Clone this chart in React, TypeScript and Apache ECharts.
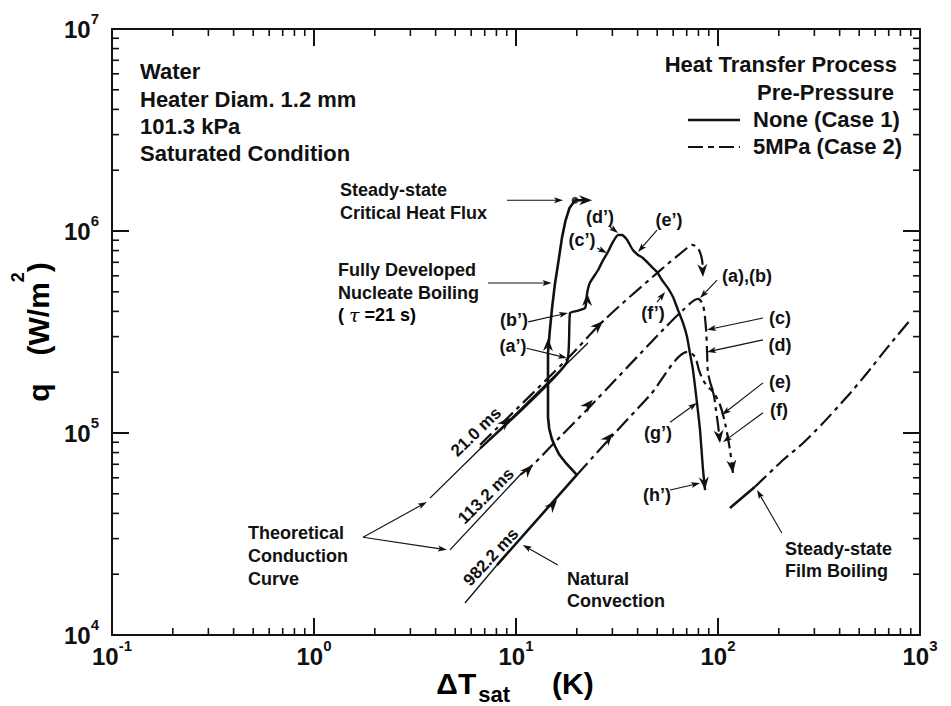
import React, { useEffect, useRef } from "react";
import * as echarts from "echarts";

const FONT = '"Liberation Sans", Arial, Helvetica, sans-serif';
const INK = "#111";

// axis ranges (log-log)
const X_MIN = 0.1;
const X_MAX = 1000;
const Y_MIN = 1e4;
const Y_MAX = 1e7;

// minor tick values of the log axes
const xMinorTicks = [0.2, 0.3, 0.4, 0.5, 0.6, 0.7, 0.8, 0.9, 2, 3, 4, 5, 6, 7, 8, 9, 20, 30, 40, 50, 60, 70, 80, 90, 200, 300, 400, 500, 600, 700, 800, 900];
const yMinorTicks = [2e4, 3e4, 4e4, 5e4, 6e4, 7e4, 8e4, 9e4, 2e5, 3e5, 4e5, 5e5, 6e5, 7e5, 8e5, 9e5, 2e6, 3e6, 4e6, 5e6, 6e6, 7e6, 8e6, 9e6];

// Theoretical conduction curves [ΔTsat (K), q (W/m2)]
const conduction21ms = [[3.75, 4.76e4], [22.7, 2.79e5]];
const conduction113ms = [[4.71, 2.64e4], [10.47, 6.2e4]];
const conduction982ms = [[5.59, 1.44e4], [8.05, 2.22e4]];

// Case 1 (no pre-pressure), solid
const case1Slow = [[8.05, 2.22e4], [20.0, 6.2e4], [17.5, 7.18e4], [16.4, 7.8e4], [15.6, 8.6e4], [15.07, 9.3e4], [14.6, 1.05e5], [14.4, 1.2e5], [14.4, 1.69e5], [14.4, 2.49e5], [14.7, 3.2e5], [15.1, 4.2e5], [15.6, 5.5e5], [16.3, 7.3e5], [16.9, 9.3e5], [17.6, 1.13e6], [18.4, 1.3e6], [19.6, 1.42e6]];
const case1Fast = [[6.64, 8.4e4], [17.9, 2.25e5], [18.5, 3.93e5], [20.0, 4.02e5], [22.0, 4.16e5], [22.5, 4.93e5], [23.2, 5.53e5], [25.5, 6.41e5], [27.0, 7.18e5], [28.5, 7.87e5], [30.2, 8.83e5], [32.0, 9.55e5], [33.5, 9.55e5], [35.5, 9.02e5], [37.9, 8.05e5], [40.2, 7.61e5], [42.5, 7.35e5], [47.1, 6.63e5], [49.9, 6.27e5], [52.8, 5.72e5], [56.5, 5.22e5], [59.9, 4.71e5], [63.4, 4.06e5], [67.1, 3.51e5], [70.3, 2.99e5], [72.6, 2.49e5], [75.2, 2.05e5], [78.7, 1.41e5], [81.5, 1.03e5], [84.3, 6.56e4], [86.3, 5.22e4]];

// Case 2 (5 MPa pre-pressure), dash-dot
const case2At21ms = [[6.64, 8.75e4], [17.9, 2.32e5], [27.0, 3.58e5], [49.9, 6.19e5], [70.3, 8.24e5], [74.3, 8.53e5], [79.6, 8.24e5], [83.4, 7.18e5], [84.3, 5.92e5]];
const case2At113ms = [[10.47, 6.2e4], [12.1, 6.95e4], [16.5, 9.55e4], [23.2, 1.35e5], [53.4, 3.24e5], [67.1, 4.06e5], [79.6, 4.61e5], [84.3, 4.3e5], [87.3, 3.24e5], [88.3, 2.52e5], [89.2, 2.0e5], [93.4, 1.67e5], [102.3, 1.38e5], [108.4, 1.12e5], [114.6, 8.24e4], [118.6, 6.34e4]];
const case2At982ms = [[20.0, 6.2e4], [30.2, 9.77e4], [46.1, 1.54e5], [71.0, 2.52e5], [76.9, 2.38e5], [80.5, 2.05e5], [84.3, 1.83e5], [89.2, 1.69e5], [94.4, 1.6e5], [97.7, 1.3e5], [100, 1.1e5], [102.3, 8.92e4]];

// Steady-state film boiling
const filmBoilingMeasured = [[114.6, 4.25e4], [152, 5.4e4]];
const filmBoilingSteady = [[152, 5.4e4], [210, 7.35e4], [264, 8.92e4], [331, 1.12e5], [435, 1.51e5], [547, 1.98e5], [687, 2.64e5], [913, 3.71e5]];

// Steady-state critical heat flux
const chfPoint = [[19.6, 1.42e6]];
const chfShaft = [[19.6, 1.42e6], [22.0, 1.42e6]];

// arrowheads on the curves [x from, q from, x tip, q tip]
const curveArrows = [
  [13.9, 3.97e4, 15.96, 4.66e4],
  [8.34, 1.06e5, 9.34, 1.19e5],
  [10.96, 6.27e4, 12.1, 6.95e4],
  [22.0, 1.33e5, 24.0, 1.46e5],
  [24.6, 3.28e5, 27.0, 3.58e5],
  [27.6, 9.02e4, 30.2, 1.0e5],
  [14.4, 2.58e5, 14.45, 2.95e5],
  [22.5, 4.4e5, 22.5, 4.93e5],
  [19.6, 1.42e6, 23.8, 1.42e6],
  [83.4, 7.18e5, 84.3, 5.92e5],
  [114.6, 8.24e4, 118.6, 6.34e4],
  [100, 1.1e5, 102.3, 8.92e4],
  [84.3, 6.56e4, 86.3, 5.22e4],
];

// annotation pointers [x from, q from, x tip, q tip]
const pointerArrows = [
  [9.02, 1.42e6, 17.1, 1.42e6],
  [7.27, 5.53e5, 15.0, 5.53e5],
  [11.5, 3.55e5, 18.1, 3.93e5],
  [11.3, 2.63e5, 17.9, 2.35e5],
  [25.2, 8.24e5, 28.2, 7.78e5],
  [29.2, 1.05e6, 32.0, 9.77e5],
  [49.9, 1.01e6, 40.2, 7.87e5],
  [49.9, 4.45e5, 54.7, 4.99e5],
  [98.9, 5.72e5, 81.5, 4.66e5],
  [167, 3.71e5, 88.3, 3.24e5],
  [167, 2.89e5, 88.3, 2.52e5],
  [167, 1.77e5, 104.7, 1.23e5],
  [167, 1.26e5, 105.9, 9.02e4],
  [57.9, 1.13e5, 78.7, 1.41e5],
  [57.9, 5.22e4, 81.5, 5.65e4],
  [16.1, 2.22e4, 10.8, 2.79e4],
  [207, 3.2e4, 156, 5.22e4],
  [1.75, 3.05e4, 3.62, 4.55e4],
  [1.75, 3.05e4, 4.55, 2.64e4],
];

const DASH_DOT = [16, 5, 4, 5];

function headRender(params: any, api: any) {
  const a = api.coord([api.value(0), api.value(1)]);
  const b = api.coord([api.value(2), api.value(3)]);
  let dx = b[0] - a[0];
  let dy = b[1] - a[1];
  const len = Math.hypot(dx, dy) || 1;
  dx /= len;
  dy /= len;
  const L = 13, W = 5, N = 9;
  const nx = -dy, ny = dx;
  return {
    type: "polygon",
    shape: {
      points: [
        [b[0], b[1]],
        [b[0] - dx * L + nx * W, b[1] - dy * L + ny * W],
        [b[0] - dx * N, b[1] - dy * N],
        [b[0] - dx * L - nx * W, b[1] - dy * L - ny * W],
      ],
    },
    style: { fill: INK },
  };
}

function pointerRender(params: any, api: any) {
  const a = api.coord([api.value(0), api.value(1)]);
  const b = api.coord([api.value(2), api.value(3)]);
  let dx = b[0] - a[0];
  let dy = b[1] - a[1];
  const len = Math.hypot(dx, dy) || 1;
  dx /= len;
  dy /= len;
  const L = 9, W = 3;
  const nx = -dy, ny = dx;
  return {
    type: "group",
    children: [
      { type: "line", shape: { x1: a[0], y1: a[1], x2: b[0] - dx * 5, y2: b[1] - dy * 5 }, style: { stroke: INK, lineWidth: 1.1 } },
      {
        type: "polygon",
        shape: {
          points: [
            [b[0], b[1]],
            [b[0] - dx * L + nx * W, b[1] - dy * L + ny * W],
            [b[0] - dx * (L - 2), b[1] - dy * (L - 2)],
            [b[0] - dx * L - nx * W, b[1] - dy * L - ny * W],
          ],
        },
        style: { fill: INK },
      },
    ],
  };
}

function xTickRender(params: any, api: any) {
  const v = api.value(0);
  const b = api.coord([v, Y_MIN]);
  const t = api.coord([v, Y_MAX]);
  return {
    type: "group",
    children: [
      { type: "line", shape: { x1: b[0], y1: b[1], x2: b[0], y2: b[1] - 7 }, style: { stroke: INK, lineWidth: 1.6 } },
      { type: "line", shape: { x1: t[0], y1: t[1], x2: t[0], y2: t[1] + 7 }, style: { stroke: INK, lineWidth: 1.6 } },
    ],
  };
}

function yTickRender(params: any, api: any) {
  const v = api.value(1);
  const l = api.coord([X_MIN, v]);
  const r = api.coord([X_MAX, v]);
  return {
    type: "group",
    children: [
      { type: "line", shape: { x1: l[0], y1: l[1], x2: l[0] + 7, y2: l[1] }, style: { stroke: INK, lineWidth: 1.6 } },
      { type: "line", shape: { x1: r[0], y1: r[1], x2: r[0] - 7, y2: r[1] }, style: { stroke: INK, lineWidth: 1.6 } },
    ],
  };
}

const tickRich = {
  b: { fontSize: 24, fontWeight: "bold", fontFamily: FONT, color: INK, verticalAlign: "bottom" },
  s: { fontSize: 15, fontWeight: "bold", fontFamily: FONT, color: INK, verticalAlign: "top", lineHeight: 30 },
};
const tickFormatter = (v: number) => `{b|10}{s|${Math.round(Math.log10(v))}}`;

const frameLine = { show: true, onZero: false, lineStyle: { color: INK, width: 2 } };
const majorTick = { show: true, inside: true, length: 17, lineStyle: { color: INK, width: 2 } };

function lineSeries(data: number[][], width: number, dashed: boolean, smooth = 0) {
  return {
    type: "line",
    data,
    symbol: "none",
    smooth,
    silent: true,
    z: 3,
    lineStyle: { color: INK, width, type: dashed ? DASH_DOT : "solid", cap: "butt", join: "round" },
  };
}

function txt(x: number, y: number, text: string, size: number, align = "left", extra: any = {}) {
  return {
    type: "text",
    x,
    y,
    z: 50,
    silent: true,
    style: { text, fill: INK, font: `bold ${size}px ${FONT}`, align, verticalAlign: "middle" },
    ...extra,
  };
}

const rot = (deg: number) => (deg * Math.PI) / 180;

const graphics: any[] = [
  // info block
  txt(140, 71, "Water", 22),
  txt(140, 99, "Heater Diam. 1.2 mm", 22),
  txt(140, 126, "101.3 kPa", 22),
  txt(140, 153, "Saturated Condition", 22),
  // legend
  txt(897, 64, "Heat Transfer Process", 22, "right"),
  txt(894, 92, "Pre-Pressure", 22, "right"),
  txt(753, 119, "None (Case 1)", 22),
  txt(753, 146, "5MPa (Case 2)", 22),
  { type: "line", z: 50, shape: { x1: 688, y1: 120, x2: 740, y2: 120 }, style: { stroke: INK, lineWidth: 2.5 } },
  { type: "line", z: 50, shape: { x1: 688, y1: 147, x2: 740, y2: 147 }, style: { stroke: INK, lineWidth: 2.2, lineDash: [15, 5, 6, 5] } },
  // block labels
  txt(340, 190, "Steady-state", 18),
  txt(340, 213, "Critical Heat Flux", 18),
  txt(338, 270, "Fully Developed", 18),
  txt(338, 293, "Nucleate Boiling", 18),
  {
    type: "text",
    x: 338,
    y: 315,
    z: 50,
    style: {
      text: "{a|( }{t|τ}{a| =21 s)}",
      align: "left",
      verticalAlign: "middle",
      rich: {
        a: { fontSize: 18, fontWeight: "bold", fontFamily: FONT, color: INK },
        t: { fontSize: 19, fontStyle: "italic", fontFamily: '"DejaVu Serif", serif', color: INK },
      },
    },
  },
  txt(248, 533, "Theoretical", 18),
  txt(248, 556, "Conduction", 18),
  txt(248, 579, "Curve", 18),
  txt(567, 579, "Natural", 18),
  txt(567, 601, "Convection", 18),
  txt(785, 549, "Steady-state", 18),
  txt(785, 571, "Film Boiling", 18),
  // point labels
  txt(600, 217, "(d’)", 18, "center"),
  txt(669, 220, "(e’)", 18, "center"),
  txt(582, 240, "(c’)", 18, "center"),
  txt(514, 320, "(b’)", 18, "center"),
  txt(513, 346, "(a’)", 18, "center"),
  txt(653, 313, "(f’)", 18, "center"),
  txt(747, 276, "(a),(b)", 18, "center"),
  txt(780, 318, "(c)", 18, "center"),
  txt(780, 345, "(d)", 18, "center"),
  txt(780, 382, "(e)", 18, "center"),
  txt(779, 410, "(f)", 18, "center"),
  txt(658, 433, "(g’)", 18, "center"),
  txt(657, 495, "(h’)", 18, "center"),
  // time labels along conduction curves
  txt(476, 432, "21.0 ms", 17, "center", { rotation: rot(44) }),
  txt(486, 496, "113.2 ms", 17, "center", { rotation: rot(45) }),
  txt(491, 557, "982.2 ms", 17, "center", { rotation: rot(47) }),
  // axis titles
  {
    type: "text",
    x: 31,
    y: 332,
    z: 50,
    rotation: Math.PI / 2,
    style: {
      text: "{q|q}{m|(W/m}{s|2}{m|)}",
      align: "center",
      verticalAlign: "middle",
      rich: {
        q: { fontSize: 30, fontWeight: "bold", fontFamily: FONT, color: INK, verticalAlign: "bottom", padding: [0, 28, 0, 0] },
        m: { fontSize: 30, fontWeight: "bold", fontFamily: FONT, color: INK, verticalAlign: "bottom" },
        s: { fontSize: 18, fontWeight: "bold", fontFamily: FONT, color: INK, verticalAlign: "top", lineHeight: 44 },
      },
    },
  },
  {
    type: "text",
    x: 515,
    y: 687,
    z: 50,
    style: {
      text: "{m|ΔT}{u|sat}{m|(K)}",
      align: "center",
      verticalAlign: "middle",
      rich: {
        m: { fontSize: 30, fontWeight: "bold", fontFamily: FONT, color: INK, verticalAlign: "top" },
        u: { fontSize: 22, fontWeight: "bold", fontFamily: FONT, color: INK, verticalAlign: "bottom", lineHeight: 37, padding: [0, 42, 0, 2] },
      },
    },
  },
];

const option: any = {
  animation: false,
  backgroundColor: "#fff",
  grid: { left: 112, right: 31, top: 29, bottom: 71, containLabel: false },
  xAxis: [
    {
      type: "log",
      logBase: 10,
      min: X_MIN,
      max: X_MAX,
      position: "bottom",
      axisLine: frameLine,
      axisTick: majorTick,
      splitLine: { show: false },
      axisLabel: { margin: 3, formatter: tickFormatter, rich: tickRich },
    },
    {
      type: "log",
      logBase: 10,
      min: X_MIN,
      max: X_MAX,
      position: "top",
      axisLine: frameLine,
      axisTick: majorTick,
      splitLine: { show: false },
      axisLabel: { show: false },
    },
  ],
  yAxis: [
    {
      type: "log",
      logBase: 10,
      min: Y_MIN,
      max: Y_MAX,
      position: "left",
      axisLine: frameLine,
      axisTick: majorTick,
      splitLine: { show: false },
      axisLabel: { margin: 13, formatter: tickFormatter, rich: tickRich, padding: [0, 0, 6, 0] },
    },
    {
      type: "log",
      logBase: 10,
      min: Y_MIN,
      max: Y_MAX,
      position: "right",
      axisLine: frameLine,
      axisTick: majorTick,
      splitLine: { show: false },
      axisLabel: { show: false },
    },
  ],
  series: [
    { type: "custom", silent: true, renderItem: xTickRender, data: xMinorTicks.map((v) => [v, Y_MIN]) },
    { type: "custom", silent: true, renderItem: yTickRender, data: yMinorTicks.map((v) => [X_MIN, v]) },
    lineSeries(conduction21ms, 1.3, false),
    lineSeries(conduction113ms, 1.3, false),
    lineSeries(conduction982ms, 1.3, false),
    lineSeries(case1Slow, 2.6, false),
    lineSeries(case1Fast, 2.4, false, 0.15),
    lineSeries(case2At21ms, 2.2, true, 0.3),
    lineSeries(case2At113ms, 2.2, true, 0.3),
    lineSeries(case2At982ms, 2.2, true, 0.3),
    lineSeries(filmBoilingMeasured, 2.6, false),
    lineSeries(filmBoilingSteady, 2.2, true, 0.2),
    lineSeries(chfShaft, 2.6, false),
    { type: "scatter", data: chfPoint, symbol: "circle", symbolSize: 7, itemStyle: { color: INK }, silent: true, z: 4 },
    { type: "custom", silent: true, renderItem: headRender, data: curveArrows, z: 5 },
    { type: "custom", silent: true, renderItem: pointerRender, data: pointerArrows, z: 5 },
  ],
  graphic: graphics,
};

export default function App() {
  const ref = useRef<HTMLDivElement>(null);
  useEffect(() => {
    const chart = echarts.init(ref.current as HTMLDivElement, undefined, { renderer: "svg" });
    chart.setOption(option);
    return () => chart.dispose();
  }, []);
  return (
    <div
      ref={ref}
      style={{ position: "fixed", left: 0, top: 0, width: 951, height: 706, background: "#fff" }}
    />
  );
}
